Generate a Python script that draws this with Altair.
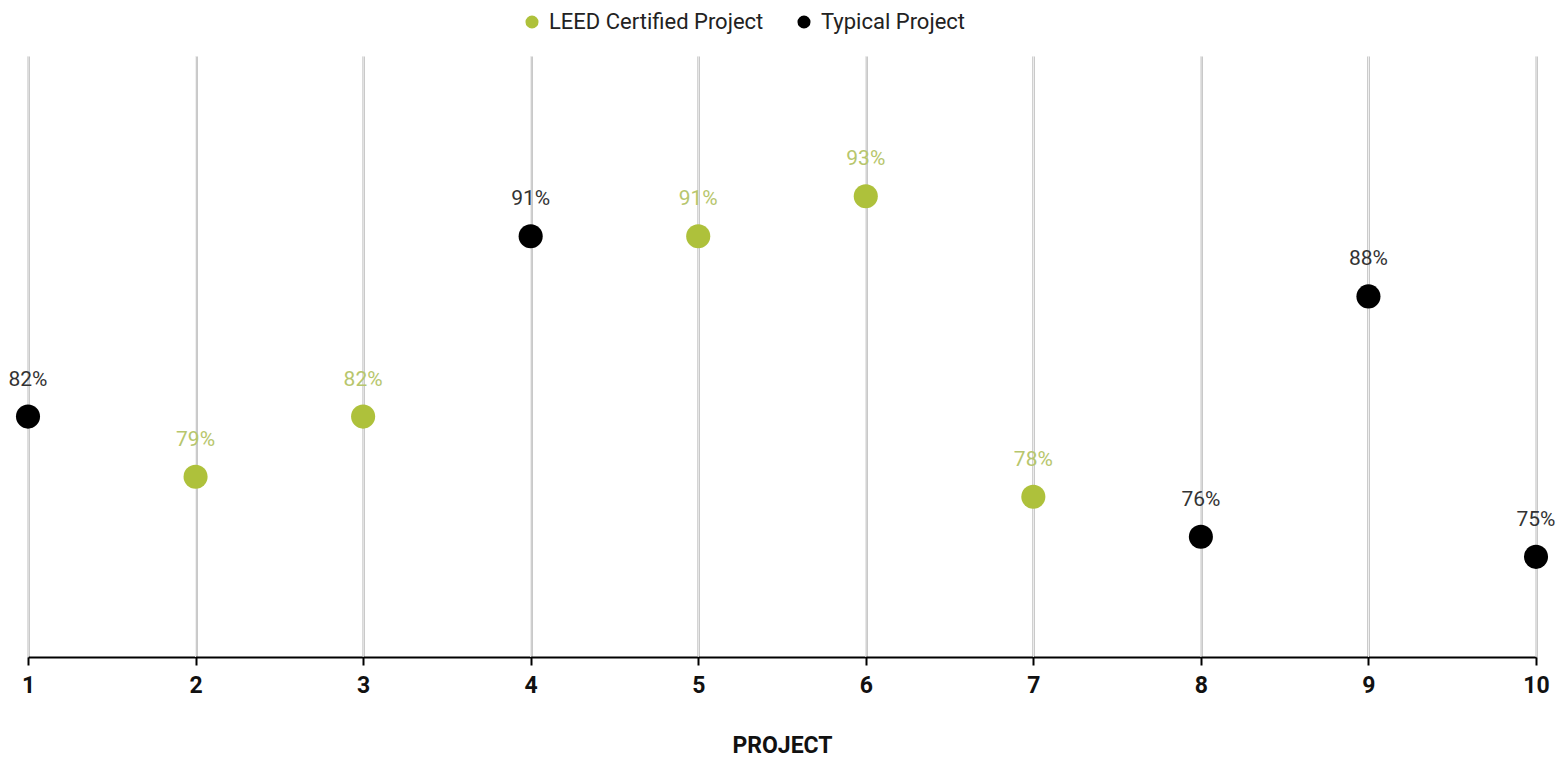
import altair as alt
import pandas as pd

projects = [1, 2, 3, 4, 5, 6, 7, 8, 9, 10]
types = ["Typical Project", "LEED Certified Project", "LEED Certified Project",
         "Typical Project", "LEED Certified Project", "LEED Certified Project",
         "LEED Certified Project", "Typical Project", "Typical Project", "Typical Project"]
values = [82, 79, 82, 91, 91, 93, 78, 76, 88, 75]
labels = [f"{v}%" for v in values]

df = pd.DataFrame({"project": projects, "type": types, "value": values, "label": labels})

cat_domain = ["LEED Certified Project", "Typical Project"]
dot_colors = ["#aec13b", "#000000"]
label_colors = ["#b7c66c", "#333333"]

W, H = 1508, 601

xscale = alt.Scale(domain=[1, 10], nice=False, zero=False)
x = alt.X("project:Q", scale=xscale,
          axis=alt.Axis(values=projects, format="d", title="PROJECT",
                        grid=True, gridColor="#c9c9c9", gridWidth=3,
                        domainColor="#000000", domainWidth=2,
                        tickColor="#000000", tickWidth=2, tickSize=8,
                        labelFlush=False, labelOverlap=False,
                        labelFont="Roboto", labelFontSize=23, labelFontWeight="bold",
                        labelColor="#111111", labelPadding=9,
                        titleFont="Roboto", titleFontSize=23, titleFontWeight="bold",
                        titleColor="#111111", titlePadding=37))
y = alt.Y("value:Q", scale=alt.Scale(domain=[70, 100], nice=False, zero=False), axis=None)

base = alt.Chart(df)

inner = base.mark_rule(color="#f2f2f2", strokeWidth=1).encode(
    x=alt.X("project:Q", scale=xscale),
    y=alt.value(0), y2=alt.value(H))

points = base.mark_circle(size=580, opacity=1).encode(
    x=x, y=y,
    color=alt.Color("type:N",
                    scale=alt.Scale(domain=cat_domain, range=dot_colors),
                    legend=alt.Legend(title=None, orient="none", direction="horizontal",
                                      legendX=493, legendY=-45,
                                      symbolType="circle", symbolSize=170,
                                      labelFont="Roboto", labelFontSize=22,
                                      labelColor="#222222", labelOffset=6,
                                      labelLimit=500,
                                      columnPadding=29, padding=0)))

texts = base.mark_text(dy=-37, font="Roboto", fontSize=21).encode(
    x=alt.X("project:Q", scale=xscale),
    y=y, text="label:N",
    color=alt.Color("type:N", scale=alt.Scale(domain=cat_domain, range=label_colors),
                    legend=None))

chart = alt.layer(inner, points, texts).resolve_scale(color="independent").properties(
    width=W, height=H,
    autosize=alt.AutoSizeParams(type="none"),
    padding={"left": 20, "top": 48, "right": 20, "bottom": 100},
).configure_view(stroke=None)

chart.save("out.html", embed_options={"renderer": "svg", "actions": False})
